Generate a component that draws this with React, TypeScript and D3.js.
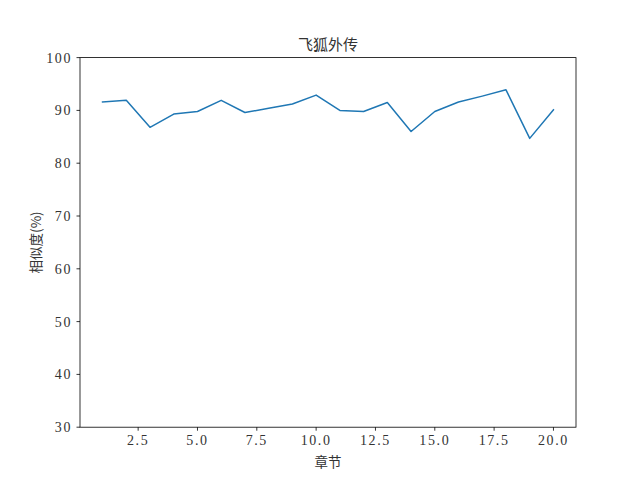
import React from "react";
import * as d3 from "d3";

const chapters = [1, 2, 3, 4, 5, 6, 7, 8, 9, 10, 11, 12, 13, 14, 15, 16, 17, 18, 19, 20];
const similarity = [91.6, 91.9, 86.8, 89.3, 89.8, 91.9, 89.6, 90.4, 91.2, 92.9, 90.0, 89.8, 91.5, 86.0, 89.8, 91.6, 92.7, 93.9, 84.7, 90.1];
const xTicks = [2.5, 5.0, 7.5, 10.0, 12.5, 15.0, 17.5, 20.0];
const yTicks = [30, 40, 50, 60, 70, 80, 90, 100];
const title = "飞狐外传";
const xLabel = "章节";
const yLabel = "相似度(%)";

const W = 640, H = 480;
const L = 80, R = 576, T = 57.6, B = 427.2;
const numFont = "'Liberation Serif', serif";
const cjkFont = "'Noto Sans CJK SC', sans-serif";

export default function App() {
  const x = d3.scaleLinear().domain([0.05, 20.95]).range([L, R]);
  const y = d3.scaleLinear().domain([30, 100]).range([B, T]);
  const line = d3.line<number>().x((_, i) => x(chapters[i])).y((d) => y(d));
  return (
    <svg width={W} height={H} style={{ position: "absolute", left: 0, top: 0, background: "#fff" }}>
      <rect x={0} y={0} width={W} height={H} fill="#fff" />
      <path d={line(similarity) || ""} fill="none" stroke="#1f77b4" strokeWidth={1.5} strokeLinejoin="round" strokeLinecap="square" />
      <rect x={L} y={T} width={R - L} height={B - T} fill="none" stroke="#000" strokeWidth={0.8} />
      {xTicks.map((t) => (
        <g key={"x" + t}>
          <line x1={x(t)} x2={x(t)} y1={B} y2={B + 3.5} stroke="#000" strokeWidth={0.8} />
          <text x={x(t)} y={B + 18} textAnchor="middle" fontFamily={numFont} fontSize={14} letterSpacing={1.6} fill="#333">
            {t.toFixed(1)}
          </text>
        </g>
      ))}
      {yTicks.map((t) => (
        <g key={"y" + t}>
          <line x1={L - 3.5} x2={L} y1={y(t)} y2={y(t)} stroke="#000" strokeWidth={0.8} />
          <text x={L - 8} y={y(t) + 5} textAnchor="end" fontFamily={numFont} fontSize={14} letterSpacing={1.6} fill="#333">
            {t}
          </text>
        </g>
      ))}
      <text x={(L + R) / 2} y={50} textAnchor="middle" fontFamily={cjkFont} fontSize={15} fill="#333">{title}</text>
      <text x={(L + R) / 2} y={467} textAnchor="middle" fontFamily={cjkFont} fontSize={13.5} fill="#333">{xLabel}</text>
      <text transform={`translate(41, ${(T + B) / 2}) rotate(-90)`} textAnchor="middle" fontFamily={cjkFont} fontSize={13.5} fill="#333">{yLabel}</text>
    </svg>
  );
}
